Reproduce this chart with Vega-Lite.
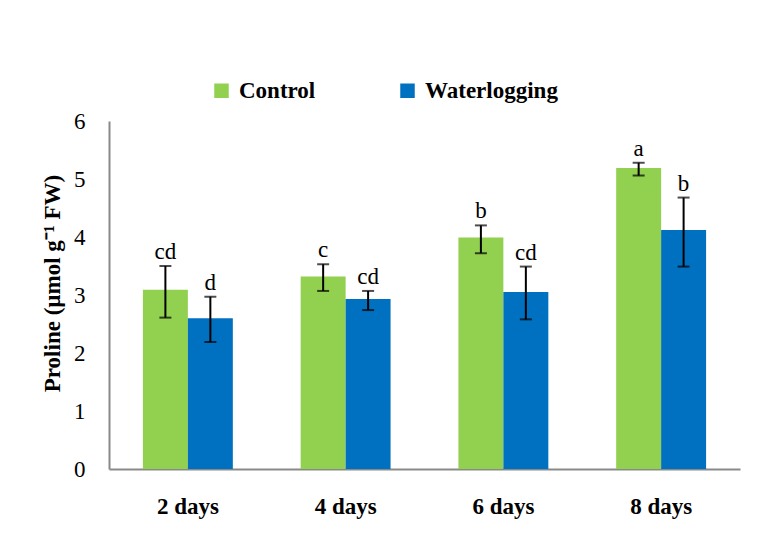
{
  "$schema": "https://vega.github.io/schema/vega-lite/v6.json",
  "width": 631,
  "height": 348,
  "autosize": {"type": "none"},
  "padding": {"left": 109, "top": 121, "right": 22, "bottom": 77},
  "background": "white",
  "config": {
    "view": {"stroke": null},
    "font": "Times New Roman",
    "axis": {"labelFont": "Times New Roman", "titleFont": "Times New Roman"},
    "legend": {"labelFont": "Times New Roman", "titleFont": "Times New Roman"},
    "text": {"font": "Times New Roman"}
  },
  "data": {
    "values": [
      {"day": "2 days", "treatment": "Control", "mean": 3.09, "lo": 2.61, "hi": 3.5, "letter": "cd"},
      {"day": "2 days", "treatment": "Waterlogging", "mean": 2.6, "lo": 2.19, "hi": 2.97, "letter": "d"},
      {"day": "4 days", "treatment": "Control", "mean": 3.32, "lo": 3.07, "hi": 3.53, "letter": "c"},
      {"day": "4 days", "treatment": "Waterlogging", "mean": 2.93, "lo": 2.74, "hi": 3.07, "letter": "cd"},
      {"day": "6 days", "treatment": "Control", "mean": 3.99, "lo": 3.72, "hi": 4.2, "letter": "b"},
      {"day": "6 days", "treatment": "Waterlogging", "mean": 3.05, "lo": 2.58, "hi": 3.49, "letter": "cd"},
      {"day": "8 days", "treatment": "Control", "mean": 5.19, "lo": 5.06, "hi": 5.28, "letter": "a"},
      {"day": "8 days", "treatment": "Waterlogging", "mean": 4.12, "lo": 3.49, "hi": 4.68, "letter": "b"}
    ]
  },
  "encoding": {
    "x": {
      "field": "day", "type": "nominal", "sort": null,
      "scale": {"paddingInner": 0.43, "paddingOuter": 0.215},
      "axis": {
        "title": null, "labelAngle": 0, "ticks": false, "grid": false,
        "domainColor": "#898989", "domainWidth": 2,
        "labelFont": "Times New Roman", "labelFontWeight": "bold", "labelFontSize": 23,
        "labelColor": "black", "labelPadding": 26
      }
    },
    "xOffset": {"field": "treatment", "type": "nominal", "sort": ["Control", "Waterlogging"]}
  },
  "layer": [
    {
      "mark": {"type": "bar"},
      "encoding": {
        "y": {
          "field": "mean", "type": "quantitative",
          "scale": {"domain": [0, 6], "nice": false},
          "axis": {
            "title": "Proline (µmol g⁻¹ FW)", "values": [0, 1, 2, 3, 4, 5, 6], "format": "d", "labelOverlap": false,
            "grid": false, "ticks": false, "domainColor": "#898989", "domainWidth": 2,
            "labelFont": "Times New Roman", "labelFontSize": 23, "labelColor": "black", "labelPadding": 24,
            "titleFont": "Times New Roman", "titleFontWeight": "bold", "titleFontSize": 23,
            "titleColor": "black", "titlePadding": 9, "titleY": 162
          }
        },
        "color": {
          "field": "treatment", "type": "nominal",
          "scale": {"domain": ["Control", "Waterlogging"], "range": ["#92D050", "#0070C0"]},
          "legend": {
            "title": null, "orient": "none", "direction": "horizontal",
            "legendX": 101, "legendY": -42,
            "symbolType": "square", "symbolSize": 210, "symbolStrokeWidth": 0, "symbolOpacity": 1,
            "labelFont": "Times New Roman", "labelFontWeight": "bold", "labelFontSize": 23,
            "labelColor": "black", "labelOffset": 6, "columnPadding": 80
          }
        }
      }
    },
    {
      "mark": {"type": "rule", "color": "black", "strokeWidth": 2},
      "encoding": {
        "y": {"field": "lo", "type": "quantitative"},
        "y2": {"field": "hi"}
      }
    },
    {
      "mark": {"type": "tick", "color": "black", "thickness": 2, "size": 12, "orient": "horizontal"},
      "encoding": {"y": {"field": "lo", "type": "quantitative"}}
    },
    {
      "mark": {"type": "tick", "color": "black", "thickness": 2, "size": 12, "orient": "horizontal"},
      "encoding": {"y": {"field": "hi", "type": "quantitative"}}
    },
    {
      "mark": {"type": "text", "font": "Times New Roman", "fontSize": 23, "color": "black", "baseline": "alphabetic", "dy": -7},
      "encoding": {
        "y": {"field": "hi", "type": "quantitative"},
        "text": {"field": "letter"}
      }
    }
  ]
}
